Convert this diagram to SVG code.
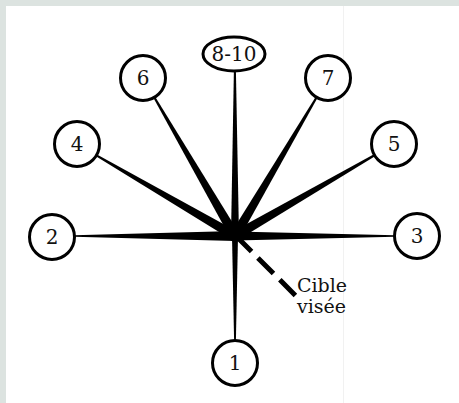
<svg xmlns="http://www.w3.org/2000/svg" width="459" height="403" viewBox="0 0 459 403">
  <style>
    .node { fill: #ffffff; stroke: #000000; stroke-width: 3; }
    .lbl { font-family: "DejaVu Serif", "Liberation Serif", serif; font-size: 20px; fill: #111111; text-anchor: middle; }
    .spoke { fill: #000000; stroke: none; }
    .note { font-family: "DejaVu Serif", "Liberation Serif", serif; font-size: 19px; fill: #111111; }
  </style>
  <rect x="0" y="0" width="459" height="403" fill="#dce3e0"/>
  <rect x="6" y="6" width="453" height="397" fill="#ffffff"/>
  <line x1="343.5" y1="6" x2="343.5" y2="403" stroke="#f1f1f1" stroke-width="1"/>

  <g id="connectors">
    <polygon class="spoke" points="74,235.2 74,236.8 235,241 235,231"/>
    <polygon class="spoke" points="395,235.2 395,236.8 235,240.5 235,231.5"/>
    <polygon class="spoke" points="233.9,70 235.9,70 239,236 231,236"/>
    <polygon class="spoke" points="234.1,341 235.9,341 238,236 232,236"/>
    <polygon class="spoke" points="155,96.5 153.2,97.5 230.7,238.5 239.3,233.5"/>
    <polygon class="spoke" points="317.7,97.5 315.9,96.5 230.7,233.5 239.3,238.5"/>
    <polygon class="spoke" points="96.5,154.2 95.5,156 232.5,240.3 237.5,231.7"/>
    <polygon class="spoke" points="375.4,155.9 374.4,154.1 232.5,231.7 237.5,240.3"/>
    <circle cx="235" cy="236" r="6" fill="#000000"/>
    <line x1="236" y1="236" x2="297" y2="297" stroke="#000000" stroke-width="5" stroke-dasharray="22 9"/>
  </g>

  <g id="node-8-10"><ellipse class="node" cx="234" cy="54" rx="31" ry="17"/><text class="lbl" x="234" y="61">8-10</text></g>
  <g id="node-6"><circle class="node" cx="143" cy="78" r="22.5"/><text class="lbl" x="143" y="85">6</text></g>
  <g id="node-7"><circle class="node" cx="328" cy="78" r="22.5"/><text class="lbl" x="328" y="85">7</text></g>
  <g id="node-4"><circle class="node" cx="77" cy="144" r="22.5"/><text class="lbl" x="77" y="151">4</text></g>
  <g id="node-5"><circle class="node" cx="394" cy="144" r="22.5"/><text class="lbl" x="394" y="151">5</text></g>
  <g id="node-2"><circle class="node" cx="52" cy="237" r="22.5"/><text class="lbl" x="52" y="244">2</text></g>
  <g id="node-3"><circle class="node" cx="417" cy="236" r="22.5"/><text class="lbl" x="417" y="243">3</text></g>
  <g id="node-1"><circle class="node" cx="235" cy="363" r="22.5"/><text class="lbl" x="235" y="370">1</text></g>

  <g id="label-cible">
    <text class="note" x="297" y="292">Cible</text>
    <text class="note" x="297" y="313">visée</text>
  </g>
</svg>
